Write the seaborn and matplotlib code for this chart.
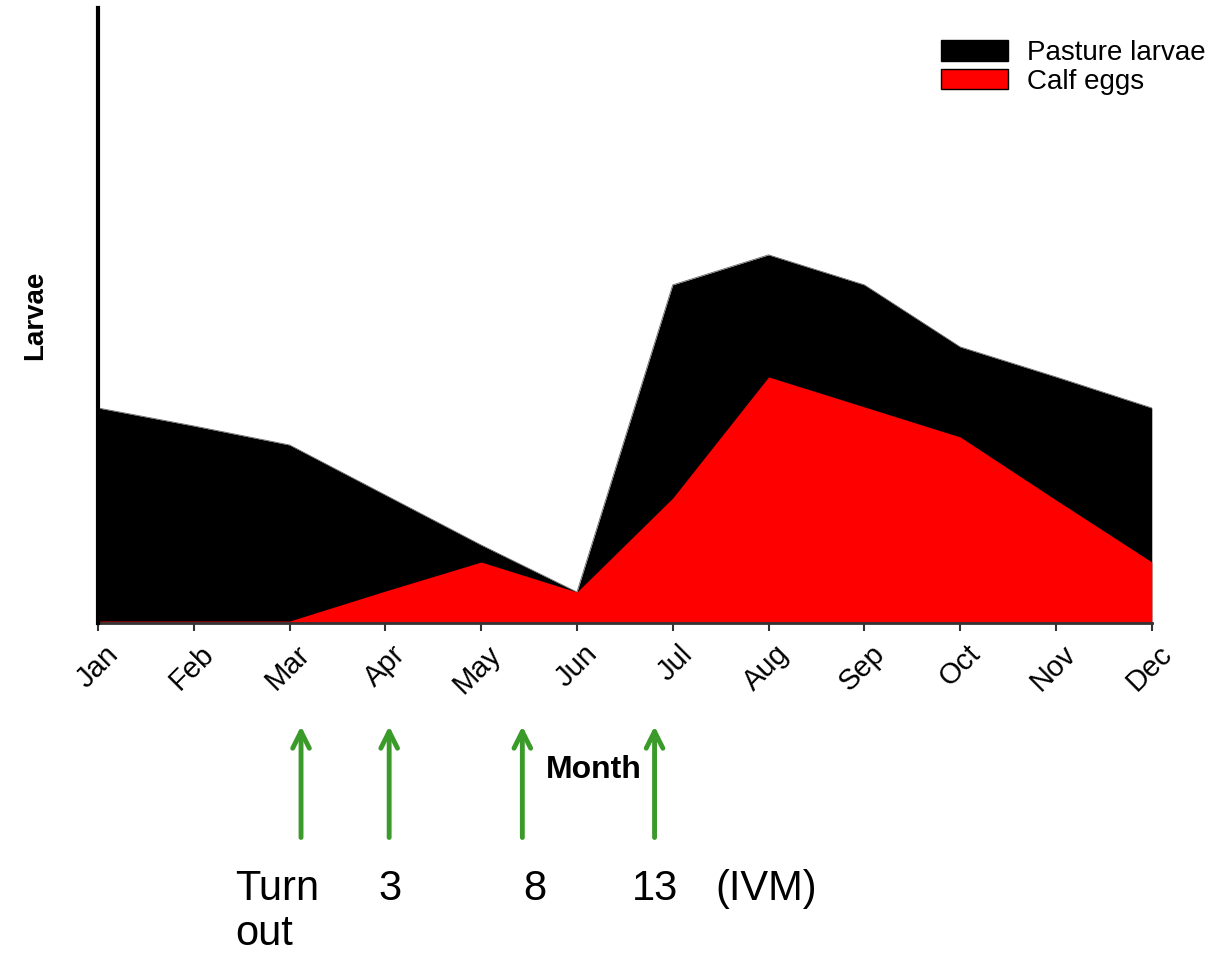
import matplotlib
matplotlib.use("Agg")
from matplotlib import pyplot as plt
import matplotlib.patches as mpt
import matplotlib.transforms as mtr
import pandas as pd
import seaborn as sns

months = ["Jan", "Feb", "Mar", "Apr", "May", "Jun", "Jul", "Aug", "Sep", "Oct", "Nov", "Dec"]
pasture_larvae = [215, 197, 178, 128, 78, 31, 338, 368, 338, 276, 246, 215]
calf_eggs = [2, 2, 2, 32, 61, 31, 125, 246, 216, 186, 123, 61]

# treatment times (month position) and their labels under the axis
treat_pos = [2.12, 3.04, 4.43, 5.81]
treat_labels = ["Turn\nout", "3", "8", "13", "(IVM)"]
label_pos = [1.43, 3.05, 4.56, 5.81, 6.98]

df = pd.DataFrame({"month": range(len(months)), "pasture": pasture_larvae, "calf": calf_eggs})

sns.set_style("white", {"text.color": "black", "xtick.color": "black", "axes.labelcolor": "black"})
plt.rcParams['font.family'] = ['Liberation Sans', 'DejaVu Sans']

fig = plt.figure(figsize=(12.24, 9.63), dpi=100)
ax = fig.add_axes([0.080, 0.353, 0.861, 0.639])

ax.fill_between(df["month"], 0, df["pasture"], color="black", lw=0, zorder=1)
ax.fill_between(df["month"], 0, df["calf"], color="#ff0000", lw=0, zorder=2)
sns.lineplot(data=df, x="month", y="pasture", ax=ax, color="#666666", lw=0.6, zorder=1.5)

ax.set_xlim(0, 11)
ax.set_ylim(0, 615)
ax.set_xticks(range(len(months)))
ax.set_xticklabels(months, rotation=45, ha="right", rotation_mode="anchor", fontsize=21)
ax.set_yticks([])
ax.set_xlabel("")
ax.set_ylabel("Larvae", fontsize=20, fontweight="bold", labelpad=36)
ax.tick_params(axis="x", direction="out", length=6, width=1.5, color="#333333", bottom=True, pad=6)
for t in ax.get_xticklabels():
    t.set_transform(t.get_transform() + mtr.ScaledTranslation(0.06, 0, fig.dpi_scale_trans))

for s in ["top", "right"]:
    ax.spines[s].set_visible(False)
ax.spines["left"].set_linewidth(3)
ax.spines["left"].set_color("black")
ax.spines["bottom"].set_linewidth(2)
ax.spines["bottom"].set_color("#333333")
ax.spines["left"].set_zorder(5)

handles = [mpt.Patch(facecolor="black", edgecolor="black", label="Pasture larvae"),
           mpt.Patch(facecolor="#ff0000", edgecolor="black", label="Calf eggs")]
ax.legend(handles=handles, loc="upper right", bbox_to_anchor=(1.075, 0.988), frameon=False,
          fontsize=20, handlelength=2.4, handleheight=0.75, labelspacing=0.1, handletextpad=0.7)

trans = mtr.blended_transform_factory(ax.transData, ax.transAxes)
for xp in treat_pos:
    ax.annotate("", xy=(xp, -0.163), xytext=(xp, -0.353), xycoords=trans, textcoords=trans,
                arrowprops=dict(arrowstyle="->", color="#3a9a2a", lw=3.5, mutation_scale=30),
                annotation_clip=False)

for xp, lab in zip(label_pos, treat_labels):
    if lab.startswith("Turn"):
        ax.text(xp, -0.4, lab, transform=trans, fontsize=30, ha="left", va="top", linespacing=1.15)
    else:
        ax.text(xp, -0.4, lab, transform=trans, fontsize=30, ha="center", va="top")

fig.text(594 / 1224, 1 - 770 / 963, "Month", fontsize=23, fontweight="bold", ha="center", va="center")

fig.savefig("out.png", dpi=100)
